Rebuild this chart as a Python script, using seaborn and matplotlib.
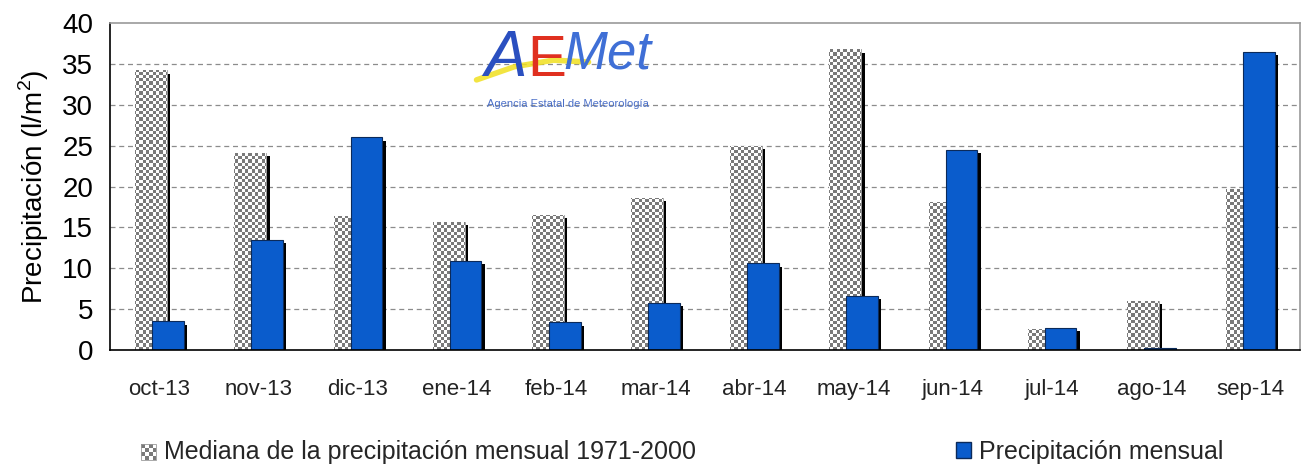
import matplotlib
matplotlib.use("Agg")
import matplotlib.pyplot as plt
import matplotlib.patheffects as pe
from matplotlib.colors import ListedColormap
from matplotlib.patches import Rectangle, Patch
from matplotlib.legend_handler import HandlerBase
from matplotlib.lines import Line2D
import seaborn as sns
import numpy as np
import pandas as pd

# data
meses = ["oct-13", "nov-13", "dic-13", "ene-14", "feb-14", "mar-14",
         "abr-14", "may-14", "jun-14", "jul-14", "ago-14", "sep-14"]
mediana = [34.2, 24.1, 16.4, 15.7, 16.5, 18.6, 25.0, 36.8, 18.1, 2.6, 6.0, 19.7]
mensual = [3.5, 13.5, 26.0, 10.9, 3.4, 5.8, 10.6, 6.6, 24.5, 2.7, 0.3, 36.5]
series = ["Mediana de la precipitación mensual 1971-2000", "Precipitación mensual"]
yticks = [0, 5, 10, 15, 20, 25, 30, 35, 40]

df = pd.DataFrame({
    "mes": meses * 2,
    "valor": mediana + mensual,
    "serie": [series[0]] * len(meses) + [series[1]] * len(meses),
})

sns.set_theme(style="white")
plt.rcParams["font.family"] = ["Liberation Sans", "DejaVu Sans"]
plt.rcParams["mathtext.fontset"] = "custom"
plt.rcParams["mathtext.rm"] = "Liberation Sans"

BLUE = "#0a5ccc"
GREY = "#7a7a7a"

fig = plt.figure(figsize=(13.02, 4.70), dpi=100)
ax = fig.add_axes([0.0845, 0.2553, 0.9140, 0.6957])

sns.barplot(data=df, x="mes", y="valor", hue="serie", hue_order=series,
            palette=["white", BLUE], width=0.8, dodge=True, legend=False,
            errorbar=None, ax=ax)

shadow = [pe.SimplePatchShadow(offset=(2.4, -2.4), shadow_rgbFace="black", alpha=1.0),
          pe.Normal()]

checker = (np.indices((100, 360)).sum(axis=0) % 2)
cmap = ListedColormap(["white", GREY])

# restyle the dodged bars: narrower and overlapping, like the Excel original
bar_w = 0.32
offs = [-0.085, 0.085]
for k, cont in enumerate(ax.containers):
    for p in cont.patches:
        c = round(p.get_x() + p.get_width() / 2)
        p.set_x(c + offs[k] - bar_w / 2)
        p.set_width(bar_w)
        p.set_path_effects(shadow)
        if k == 0:
            p.set_facecolor("white")
            p.set_edgecolor("#9a9a9a")
            p.set_linewidth(0.6)
            p.set_zorder(2)
            im = ax.imshow(checker, cmap=cmap, interpolation="nearest",
                           extent=(-0.5, 11.5, 0, 40), aspect="auto",
                           origin="lower", zorder=2.1)
            im.set_clip_path(p)
        else:
            p.set_facecolor(BLUE)
            p.set_edgecolor("#0b2a5a")
            p.set_linewidth(0.8)
            p.set_zorder(3)

ax.set_xlim(-0.5, 11.5)
ax.set_ylim(0, 40)
ax.set_yticks(yticks)
ax.set_yticklabels([str(v) for v in yticks], fontsize=20, color="black")
ax.set_xticks(range(len(meses)))
ax.set_xticklabels(meses, fontsize=16, color="#222222")
ax.set_xticks(np.arange(-0.5, 12, 1), minor=True)
ax.tick_params(axis="x", which="major", length=0, pad=21)
ax.tick_params(axis="x", which="minor", length=8, width=1, color="black", direction="out")
ax.tick_params(axis="y", length=8, width=1, color="black", direction="out", pad=4)
ax.set_xlabel("")
ax.set_ylabel("Precipitación (l/m$^2$)", fontsize=20, color="black", labelpad=8)

for y in yticks[1:-1]:
    ax.axhline(y, color="#8c8c8c", lw=0.9, ls=(0, (4, 3)), zorder=1)

for s in ["left", "bottom"]:
    ax.spines[s].set_color("black")
    ax.spines[s].set_linewidth(1.2)
for s in ["top", "right"]:
    ax.spines[s].set_color("#9a9a9a")
    ax.spines[s].set_linewidth(1.2)
ax.spines["bottom"].set_zorder(5)


# legend with a small checkerboard key
class CheckerHandler(HandlerBase):
    def create_artists(self, legend, orig, x0, y0, w, h, fontsize, trans):
        arts = []
        n = 4
        s = min(w, h) / n
        for i in range(n):
            for j in range(n):
                col = GREY if (i + j) % 2 else "white"
                arts.append(Rectangle((x0 + i * s, y0 + j * s), s, s,
                                      facecolor=col, edgecolor="none", transform=trans))
        arts.append(Rectangle((x0, y0), n * s, n * s, facecolor="none",
                              edgecolor="#9a9a9a", lw=0.6, transform=trans))
        return arts


h_med = Patch(label=series[0])
h_men = Patch(facecolor=BLUE, edgecolor="#0b2a5a", label=series[1])
fig.legend([h_med, h_men], series, loc="center left",
           bbox_to_anchor=(0.091, 0.038), ncol=2, frameon=False, fontsize=18,
           handlelength=0.62, handleheight=0.62, handletextpad=0.3,
           columnspacing=10.4, handler_map={h_med: CheckerHandler()})

# AEMet logo drawn as text
fig.text(0.372, 0.875, "A", fontsize=46, color="#2a4fc0", style="italic",
         ha="left", va="center")
fig.text(0.405, 0.870, "E", fontsize=42, color="#e03020", ha="left", va="center")
fig.text(0.433, 0.885, "Met", fontsize=38, color="#3f6fd6", style="italic",
         ha="left", va="center")
fig.add_artist(Line2D([0.366, 0.395, 0.425, 0.452], [0.830, 0.858, 0.872, 0.868],
                      transform=fig.transFigure, color="#f0e020", lw=4, alpha=0.85,
                      solid_capstyle="round"))
fig.text(0.4365, 0.778, "Agencia Estatal de Meteorología", fontsize=8,
         color="#4a6fc8", ha="center", va="center")

fig.savefig("out.png", dpi=100)
